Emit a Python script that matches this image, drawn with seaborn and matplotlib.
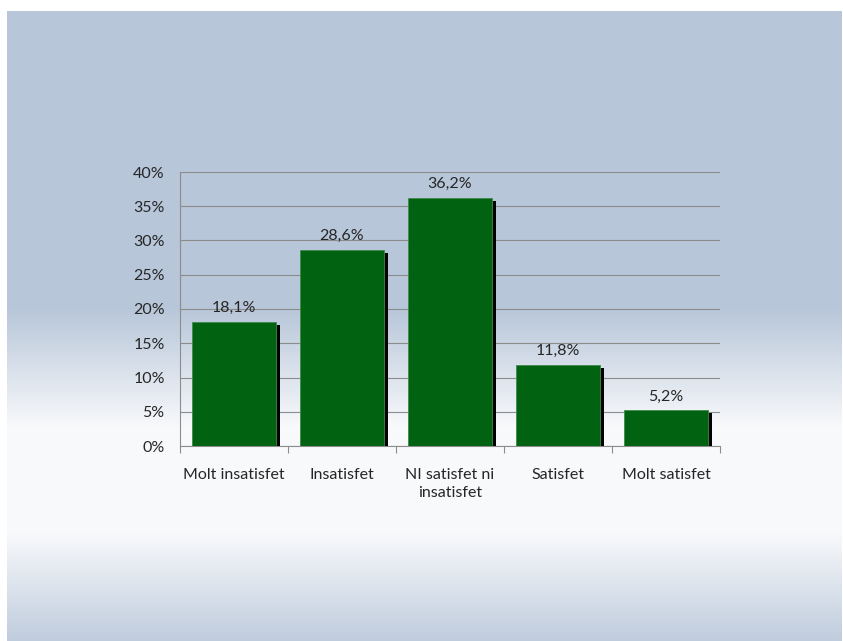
import numpy as np
import pandas as pd
import matplotlib
matplotlib.use("Agg")
import matplotlib.pyplot as plt
import matplotlib.patheffects as pe
from matplotlib.ticker import FixedLocator, PercentFormatter
import seaborn as sns

categories = ["Molt insatisfet", "Insatisfet", "NI satisfet ni\ninsatisfet", "Satisfet", "Molt satisfet"]
values = [18.1, 28.6, 36.2, 11.8, 5.2]
value_labels = ["18,1%", "28,6%", "36,2%", "11,8%", "5,2%"]
yticks = [0, 5, 10, 15, 20, 25, 30, 35, 40]

sns.set_theme(style="white")
plt.rcParams["font.family"] = ["Lato", "DejaVu Sans"]

W, H = 843, 641
fig = plt.figure(figsize=(W / 100, H / 100), dpi=100)

# background gradient
top = np.array([0xb7, 0xc6, 0xd9]) / 255
mid = np.array([0xf8, 0xf9, 0xfb]) / 255
bot = np.array([0xbf, 0xcc, 0xdd]) / 255
grad = np.zeros((H, 3))
for y in range(H):
    if y < 307:
        c = top
    elif y < 427:
        t = (y - 307) / 120
        c = top + (mid - top) * t
    elif y < 533:
        c = mid
    else:
        t = (y - 533) / 108
        c = mid + (bot - mid) * t
    grad[y] = c
img = np.repeat(grad[:, None, :], W, axis=1)
img[:11, :, :] = 1.0
img[:, :7, :] = 1.0
img[:, -1:, :] = 1.0
bg = fig.add_axes([0, 0, 1, 1], zorder=-10)
bg.imshow(img, aspect="auto", extent=[0, 1, 0, 1], interpolation="nearest")
bg.axis("off")

ax = fig.add_axes([180 / W, 1 - 446 / H, 540 / W, 274 / H])
ax.set_facecolor("none")

df = pd.DataFrame({"cat": categories, "val": values})
sns.barplot(data=df, x="cat", y="val", color="#016212", saturation=1,
            width=0.78, ax=ax, zorder=3)

for p in ax.patches:
    p.set_edgecolor("#3f8a4a")
    p.set_linewidth(0.6)
    p.set_path_effects([pe.SimplePatchShadow(offset=(2.6, -2.2), shadow_rgbFace="black", alpha=1.0),
                        pe.Normal()])

for i, (v, lab) in enumerate(zip(values, value_labels)):
    ax.annotate(lab, (i, v), xytext=(0, 5), textcoords="offset points",
                ha="center", va="bottom", fontsize=11.5, color="#262626")

ax.set_ylim(0, 40)
ax.set_xlim(-0.5, len(categories) - 0.5)
ax.set_yticks(yticks)
ax.yaxis.set_major_formatter(PercentFormatter(decimals=0))
ax.yaxis.grid(True, color="#8c8c8c", linewidth=0.8)
ax.set_axisbelow(True)
ax.set_xlabel("")
ax.set_ylabel("")

ax.xaxis.set_minor_locator(FixedLocator(np.arange(-0.5, len(categories), 1.0)))
ax.tick_params(axis="x", which="major", length=0, labelsize=11.5, labelcolor="#262626", pad=16)
ax.tick_params(axis="x", which="minor", length=5, width=0.8, color="#8c8c8c", direction="out")
ax.tick_params(axis="y", which="major", length=5, width=0.8, color="#8c8c8c", direction="out",
               labelsize=11.5, labelcolor="#262626", pad=6)
ax.tick_params(axis="x", which="both", bottom=True)
for lab in ax.get_xticklabels():
    lab.set_linespacing(1.35)

for s in ["top", "right"]:
    ax.spines[s].set_visible(False)
for s in ["left", "bottom"]:
    ax.spines[s].set_color("#8c8c8c")
    ax.spines[s].set_linewidth(0.8)

fig.savefig("out.png", dpi=100)
